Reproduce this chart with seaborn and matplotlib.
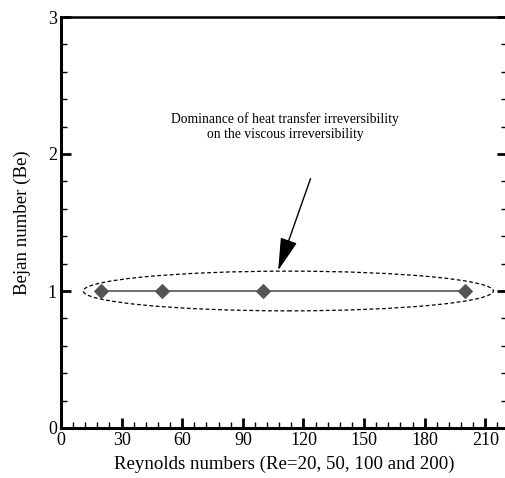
import matplotlib
matplotlib.use("Agg")
import matplotlib.pyplot as plt
from matplotlib.patches import Ellipse
from matplotlib.ticker import MultipleLocator
import seaborn as sns
import pandas as pd

reynolds = [20, 50, 100, 200]
bejan = [1, 1, 1, 1]
x_label = "Reynolds numbers (Re=20, 50, 100 and 200)"
y_label = "Bejan number (Be)"
note = "Dominance of heat transfer irreversibility\non the viscous irreversibility"

sns.set_theme(style="white")
plt.rcParams['font.family'] = ['Liberation Serif', 'DejaVu Serif']
plt.rcParams['mathtext.fontset'] = 'stix'

df = pd.DataFrame({"Re": reynolds, "Be": bejan})

fig = plt.figure(figsize=(5.06, 4.78), dpi=100)
ax = fig.add_axes([61/506, 50/478, 445.5/506, 411/478])

sns.lineplot(data=df, x="Re", y="Be", ax=ax, color="#555555", linewidth=1.2,
             marker="D", markersize=7, markeredgecolor="#555555", markerfacecolor="#555555")

ax.set_xlim(0, 220.5)
ax.set_ylim(0, 3)
ax.xaxis.set_major_locator(MultipleLocator(30))
ax.xaxis.set_minor_locator(MultipleLocator(6))
ax.yaxis.set_major_locator(MultipleLocator(1))
ax.yaxis.set_minor_locator(MultipleLocator(0.2))
ax.tick_params(which="major", direction="in", length=7, width=2, labelsize=13,
               left=True, right=True, bottom=True, top=False, pad=3, color="black", labelcolor="black")
ax.tick_params(which="minor", direction="in", length=4, width=1,
               left=True, right=True, bottom=True, top=False, color="black")
for s in ["left", "bottom"]:
    ax.spines[s].set_linewidth(2.2)
    ax.spines[s].set_color("black")
ax.spines["top"].set_linewidth(1.8)
ax.spines["top"].set_color("black")
ax.spines["right"].set_linewidth(1.5)
ax.spines["right"].set_color("black")

ax.set_xlabel(x_label, fontsize=13.6, labelpad=5, color="black")
ax.set_ylabel(y_label, fontsize=13.6, labelpad=12, color="black")

ell = Ellipse((112.5, 1.0), width=203, height=0.29, fill=False,
              linestyle=(0, (3, 2)), linewidth=0.9, edgecolor="black")
ax.add_patch(ell)

ax.annotate("", xy=(107.5, 1.15), xytext=(123.5, 1.82),
            arrowprops=dict(arrowstyle="-|>,head_length=1.7,head_width=0.45",
                            color="black", lw=1.0, shrinkA=0, shrinkB=0))
ax.text(111, 2.2, note, ha="center", va="center", fontsize=9.8,
        color="black", linespacing=1.25)

fig.savefig("out.png", dpi=100)
